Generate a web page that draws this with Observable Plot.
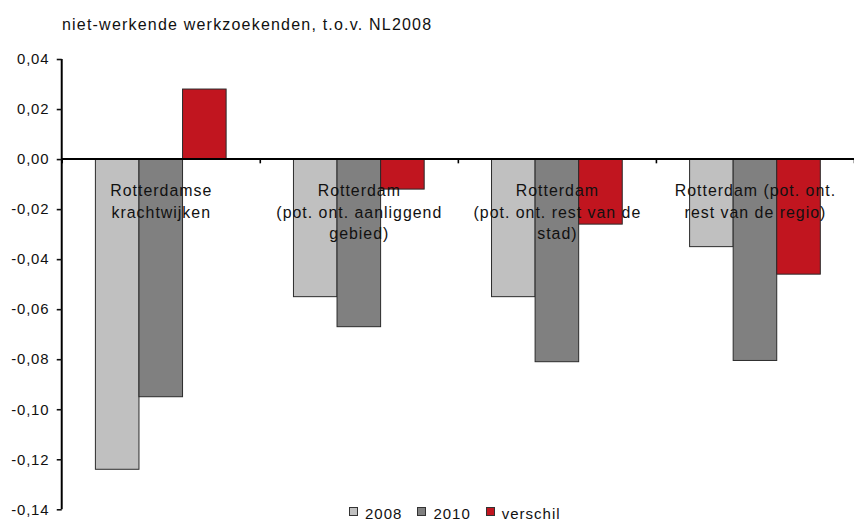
<!DOCTYPE html>
<html>
<head>
<meta charset="utf-8">
<script src="https://cdn.jsdelivr.net/npm/d3@7"></script>
<script src="https://cdn.jsdelivr.net/npm/@observablehq/plot@0.6"></script>
<style>
  html, body { margin: 0; padding: 0; background: #fff; }
  #wrap { position: relative; width: 854px; height: 523px; overflow: hidden; background: #fff;
          font-family: "Liberation Sans", Arial, sans-serif; color: #111; }
  #chart { position: absolute; left: 0; top: 0; }
  #title { position: absolute; left: 62px; top: 17px; font-size: 16px; line-height: 16px;
           letter-spacing: 1.2px; white-space: nowrap; }
  #legend { position: absolute; left: 349px; top: 506px; display: flex; align-items: center;
            font-size: 15px; line-height: 15px; letter-spacing: 1px; white-space: nowrap; }
  #legend .item { display: flex; align-items: center; margin-right: 15px; }
  #legend .sw { width: 7px; height: 7px; border: 1px solid #333; margin-right: 7px; position: relative; top: -2px; }
</style>
</head>
<body>
<div id="wrap">
  <div id="chart"></div>
  <div id="title"></div>
  <div id="legend"></div>
</div>
<script>
// ---- data ----
const title = "niet-werkende werkzoekenden, t.o.v. NL2008";
const categories = [
  "Rotterdamse\nkrachtwijken",
  "Rotterdam\n(pot. ont. aanliggend\ngebied)",
  "Rotterdam\n(pot. ont. rest van de\nstad)",
  "Rotterdam (pot. ont.\nrest van de regio)"
];
const series = ["2008", "2010", "verschil"];
const values2008 = [-0.124, -0.055, -0.055, -0.035];
const values2010 = [-0.095, -0.067, -0.081, -0.0805];
const valuesVerschil = [0.028, -0.012, -0.026, -0.046];
const colors = ["#c0c0c0", "#808080", "#c1151f"];
const yTicks = [-0.14, -0.12, -0.10, -0.08, -0.06, -0.04, -0.02, 0.00, 0.02, 0.04];

// ---- table ----
const seriesValues = [values2008, values2010, valuesVerschil];
const groupPad = 0.17;     // fraction of a category band left empty on each side
const barW = (1 - 2 * groupPad) / series.length;
const rows = [];
categories.forEach((c, i) => {
  series.forEach((s, j) => {
    rows.push({cat: i, series: s, value: seriesValues[j][i],
               x1: i + groupPad + j * barW, x2: i + groupPad + (j + 1) * barW});
  });
});
const labels = categories.map((c, i) => ({x: i + 0.5, text: c}));
const boundaries = d3.range(categories.length + 1);

const fmt = d => (Math.round(d * 100) / 100).toFixed(2).replace("-0.00", "0.00").replace(".", ",");

const chart = Plot.plot({
  width: 858,
  height: 523,
  marginLeft: 62,
  marginRight: 0,
  marginTop: 59.3,
  marginBottom: 11.3,
  x: {domain: [0, categories.length], axis: null},
  y: {domain: [-0.14, 0.04], axis: null},
  color: {domain: series, range: colors},
  style: {fontFamily: "'Liberation Sans', Arial, sans-serif", fontSize: "15px", color: "#111", background: "#fff", overflow: "visible"},
  marks: [
    Plot.rect(rows, {x1: "x1", x2: "x2", y1: 0, y2: "value", fill: "series", stroke: "#2a2a2a", strokeWidth: 1}),
    Plot.text(labels, {x: "x", y: 0, text: "text", lineAnchor: "top", dy: 21.3, lineHeight: 1.356,
                       fontSize: 16, fill: "#111", textAnchor: "middle", className: "catlab"}),
    Plot.ruleY([0], {stroke: "#000", strokeWidth: 2, dy: -0.5}),
    Plot.ruleX(boundaries, {y1: 0, y2: -0.0017, stroke: "#000", strokeWidth: 1.6}),
    Plot.ruleX([0], {y1: -0.14, y2: 0.04, stroke: "#000", strokeWidth: 2, dx: -0.5}),
    Plot.axisY({ticks: yTicks, tickFormat: fmt, tickSize: 5, tickPadding: 8, strokeWidth: 1.6,
                fontSize: 15, label: null, className: "yax"})
  ]
});
document.getElementById("chart").appendChild(chart);
d3.select(chart).selectAll(".catlab text").style("letter-spacing", "1px");
d3.select(chart).selectAll(".yax text").style("letter-spacing", "0.8px");

document.getElementById("title").textContent = title;
const legend = d3.select("#legend");
series.forEach((s, j) => {
  const it = legend.append("div").attr("class", "item");
  it.append("div").attr("class", "sw").style("background", colors[j]);
  it.append("span").text(s);
});
</script>
</body>
</html>
